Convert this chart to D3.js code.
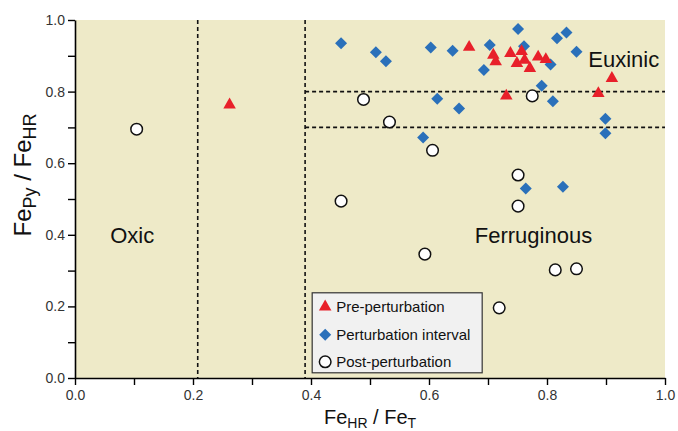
<!DOCTYPE html>
<html>
<head>
<meta charset="utf-8">
<title>Fe speciation</title>
<style>
  body { margin: 0; background: #fff; }
  svg { font-family: "Liberation Sans", Arial, sans-serif; }
</style>
</head>
<body>
<svg id="chart" width="678" height="431"></svg>
<script src="https://cdn.jsdelivr.net/npm/d3@7"></script>
<script>
// values: [FeHR/FeT, FePy/FeHR]
var prePerturbation = [
    [0.262, 0.763], [0.668, 0.924], [0.709, 0.902], [0.713, 0.884], [0.738, 0.907],
    [0.757, 0.912], [0.749, 0.879], [0.762, 0.888], [0.771, 0.865], [0.785, 0.897],
    [0.798, 0.890], [0.910, 0.837], [0.731, 0.788], [0.887, 0.795]
];
var perturbationInterval = [
    [0.451, 0.935], [0.510, 0.910], [0.527, 0.885], [0.603, 0.923], [0.640, 0.914],
    [0.703, 0.930], [0.751, 0.975], [0.761, 0.927], [0.817, 0.949], [0.833, 0.965],
    [0.850, 0.911], [0.693, 0.860], [0.806, 0.876], [0.791, 0.816], [0.614, 0.780],
    [0.651, 0.753], [0.810, 0.773], [0.899, 0.724], [0.899, 0.684], [0.590, 0.672],
    [0.764, 0.529], [0.827, 0.534]
];
var postPerturbation = [
    [0.1045, 0.695], [0.489, 0.778], [0.533, 0.715], [0.606, 0.636], [0.751, 0.567],
    [0.751, 0.480], [0.451, 0.494], [0.775, 0.788], [0.593, 0.346], [0.814, 0.302],
    [0.850, 0.305], [0.719, 0.196]
];
var xThresholds = [0.208, 0.39];
var yThresholds = [0.8, 0.7];
var tickValues = [0, 0.2, 0.4, 0.6, 0.8, 1.0];
var minorTicks = [0.1, 0.3, 0.5, 0.7, 0.9];
var legendLabels = ['Pre-perturbation', 'Perturbation interval', 'Post-perturbation'];

var svg = d3.select('#chart');
var margin = {top: 20, right: 13, bottom: 53, left: 75};
var width = 678 - margin.left - margin.right;
var height = 431 - margin.top - margin.bottom;

var x = d3.scaleLinear().domain([0, 1]).range([0, width]);
var y = d3.scaleLinear().domain([0, 1]).range([height, 0]);

var g = svg.append('g')
    .attr('transform', 'translate(' + margin.left + ',' + margin.top + ')');

// background
g.append('rect')
    .attr('width', width)
    .attr('height', height)
    .attr('fill', '#eeeac8');

// threshold lines
g.selectAll('.vline')
    .data(xThresholds)
    .enter().append('line')
    .attr('x1', function (d) { return x(d); })
    .attr('x2', function (d) { return x(d); })
    .attr('y1', 0)
    .attr('y2', height)
    .attr('stroke', '#111')
    .attr('stroke-width', 1.6)
    .attr('stroke-dasharray', '4,3');

g.selectAll('.hline')
    .data(yThresholds)
    .enter().append('line')
    .attr('x1', x(xThresholds[1]))
    .attr('x2', width)
    .attr('y1', function (d) { return y(d); })
    .attr('y2', function (d) { return y(d); })
    .attr('stroke', '#111')
    .attr('stroke-width', 1.6)
    .attr('stroke-dasharray', '4,3');

// axes
function styleAxis(sel) {
    sel.select('.domain').attr('stroke', '#000').attr('stroke-width', 1.6);
    sel.selectAll('.tick line').attr('stroke', '#000').attr('stroke-width', 1.4);
    sel.selectAll('.tick text').attr('fill', '#333').style('font-size', '14px');
}

var xAxis = g.append('g')
    .attr('transform', 'translate(0,' + height + ')')
    .call(d3.axisBottom(x).tickValues(tickValues.concat(minorTicks)).tickSize(7).tickSizeOuter(0)
        .tickFormat(function (d) { return tickValues.indexOf(d) >= 0 ? d3.format('.1f')(d) : ''; }));
styleAxis(xAxis);
xAxis.selectAll('.tick text').attr('dy', '0.85em');

var yAxis = g.append('g')
    .call(d3.axisLeft(y).tickValues(tickValues.concat(minorTicks)).tickSize(7).tickSizeOuter(0)
        .tickFormat(function (d) { return tickValues.indexOf(d) >= 0 ? d3.format('.1f')(d) : ''; }));
styleAxis(yAxis);

// region labels
var regions = [
    {t: 'Oxic', x: 0.097, y: 0.4},
    {t: 'Ferruginous', x: 0.777, y: 0.4},
    {t: 'Euxinic', x: 0.930, y: 0.890}
];
g.selectAll('.region')
    .data(regions)
    .enter().append('text')
    .attr('x', function (d) { return x(d.x); })
    .attr('y', function (d) { return y(d.y); })
    .attr('text-anchor', 'middle')
    .attr('dy', '0.35em')
    .style('font-size', '22px')
    .attr('fill', '#111')
    .text(function (d) { return d.t; });

// markers
var red = '#e8202a', blue = '#2a70ba';
var tri = d3.symbol().type(d3.symbolTriangle).size(68);
var sq = d3.symbol().type(d3.symbolSquare).size(72);

g.selectAll('.post')
    .data(postPerturbation)
    .enter().append('circle')
    .attr('cx', function (d) { return x(d[0]); })
    .attr('cy', function (d) { return y(d[1]); })
    .attr('r', 5.8)
    .attr('fill', '#fff')
    .attr('stroke', '#111')
    .attr('stroke-width', 1.5);

g.selectAll('.pert')
    .data(perturbationInterval)
    .enter().append('path')
    .attr('d', sq)
    .attr('transform', function (d) { return 'translate(' + x(d[0]) + ',' + y(d[1]) + ') rotate(45)'; })
    .attr('fill', blue);

g.selectAll('.pre')
    .data(prePerturbation)
    .enter().append('path')
    .attr('d', tri)
    .attr('transform', function (d) { return 'translate(' + x(d[0]) + ',' + y(d[1]) + ')'; })
    .attr('fill', red);

// legend
var legend = g.append('g').attr('transform', 'translate(' + (x(0.402)) + ',' + (y(0.238)) + ')');
legend.append('rect')
    .attr('width', 170)
    .attr('height', 80)
    .attr('fill', '#f1f1f1')
    .attr('stroke', '#333')
    .attr('stroke-width', 1.2);
var rows = legend.selectAll('.row')
    .data(legendLabels)
    .enter().append('g')
    .attr('transform', function (d, i) { return 'translate(13,' + [14, 42, 69][i] + ')'; });
rows.each(function (d, i) {
    var r = d3.select(this);
    if (i === 0) r.append('path').attr('d', tri).attr('fill', red);
    if (i === 1) r.append('path').attr('d', sq).attr('transform', 'rotate(45)').attr('fill', blue);
    if (i === 2) r.append('circle').attr('r', 5.8).attr('fill', '#fff').attr('stroke', '#111').attr('stroke-width', 1.5);
});
rows.append('text')
    .attr('x', 11)
    .attr('dy', '0.35em')
    .style('font-size', '15px')
    .attr('fill', '#111')
    .text(function (d) { return d; });

// axis titles
var xt = svg.append('text')
    .attr('x', margin.left + width / 2)
    .attr('y', 424)
    .attr('text-anchor', 'middle')
    .style('font-size', '20px')
    .attr('fill', '#111');
xt.append('tspan').text('Fe');
xt.append('tspan').attr('dy', 4).style('font-size', '14px').text('HR');
xt.append('tspan').attr('dy', -4).text(' / Fe');
xt.append('tspan').attr('dy', 4).style('font-size', '14px').text('T');

var yt = svg.append('text')
    .attr('transform', 'translate(31,175) rotate(-90)')
    .attr('text-anchor', 'middle')
    .style('font-size', '24px')
    .attr('fill', '#111');
yt.append('tspan').text('Fe');
yt.append('tspan').attr('dy', 5).style('font-size', '18px').text('Py');
yt.append('tspan').attr('dy', -5).text(' / Fe');
yt.append('tspan').attr('dy', 5).style('font-size', '18px').text('HR');
</script>
</body>
</html>
